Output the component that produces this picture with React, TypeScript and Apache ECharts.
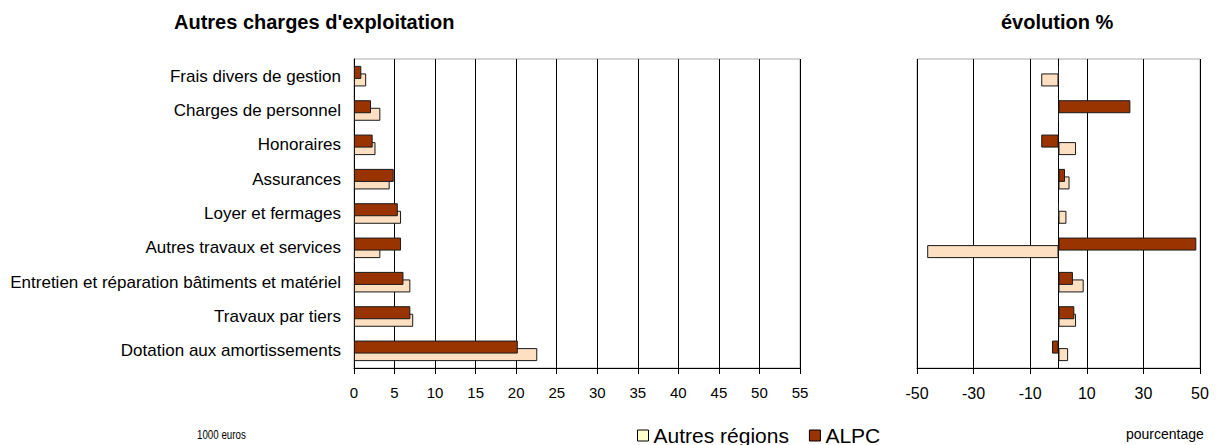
import React, { useEffect, useRef } from "react";
import * as echarts from "echarts";

const categories = [
  "Frais divers de gestion",
  "Charges de personnel",
  "Honoraires",
  "Assurances",
  "Loyer et fermages",
  "Autres travaux et services",
  "Entretien et réparation bâtiments et matériel",
  "Travaux par tiers",
  "Dotation aux amortissements",
];
const autresValues = [1.5, 3.25, 2.65, 4.4, 5.8, 3.25, 6.95, 7.3, 22.6];
const alpcValues = [0.9, 2.1, 2.3, 4.9, 5.4, 5.8, 6.1, 6.95, 20.2];
const autresEvol = [-6.1, 0, 6.2, 3.9, 2.8, -46.4, 8.9, 6.2, 3.4];
const alpcEvol = [0, 25.4, -6.1, 2.3, 0, 48.7, 5.1, 5.6, -2.3];
const leftTicks = { min: 0, max: 55, interval: 5 };
const rightRange = { min: -50, max: 50, step: 20 };

const AUTRES_COLOR = "#FDDFC2";
const ALPC_COLOR = "#993300";
const FONT = "Arial, 'Liberation Sans', sans-serif";

export default function App() {
  const ref = useRef<HTMLDivElement>(null);
  useEffect(() => {
    document.body.style.margin = "0";
    const chart = echarts.init(ref.current!, null, { renderer: "svg" });
    const barCommon = {
      type: "bar" as const,
      barWidth: 13,
      barGap: "-42%",
    };
    const border = { borderColor: "#1a1a1a", borderWidth: 1 };
    chart.setOption({
      animation: false,
      backgroundColor: "#fff",
      grid: [
        { left: 354, top: 59, width: 446, height: 309, show: true, borderColor: "#aaa", borderWidth: 1 },
        { left: 917, top: 59, width: 283, height: 309, show: true, borderColor: "#aaa", borderWidth: 1 },
      ],
      xAxis: [
        {
          gridIndex: 0,
          type: "value",
          min: leftTicks.min,
          max: leftTicks.max,
          interval: leftTicks.interval,
          axisLine: { show: true, lineStyle: { color: "#000", width: 1 } },
          axisTick: { show: true, length: 6, lineStyle: { color: "#000" } },
          axisLabel: { fontFamily: FONT, fontSize: 15, color: "#000", margin: 17 },
          splitLine: { show: true, lineStyle: { color: "#000", width: 1 } },
        },
        {
          gridIndex: 1,
          type: "value",
          min: rightRange.min,
          max: rightRange.max,
          show: false,
        },
        {
          gridIndex: 1,
          type: "value",
          position: "bottom",
          min: 0,
          max: rightRange.max - rightRange.min,
          interval: rightRange.step,
          axisLine: { show: true, lineStyle: { color: "#000", width: 1 } },
          axisTick: { show: true, length: 6, lineStyle: { color: "#000" } },
          axisLabel: {
            fontFamily: FONT,
            fontSize: 16,
            color: "#000",
            margin: 17,
            formatter: (v: number) => String(v + rightRange.min),
          },
          splitLine: { show: true, lineStyle: { color: "#000", width: 1 } },
        },
      ],
      yAxis: [
        {
          gridIndex: 0,
          type: "category",
          inverse: true,
          data: categories,
          axisLine: { show: true, lineStyle: { color: "#000" } },
          axisTick: { show: false },
          axisLabel: { fontFamily: FONT, fontSize: 17, color: "#000", margin: 13 },
          splitLine: { show: false },
        },
        {
          gridIndex: 1,
          type: "category",
          inverse: true,
          data: categories,
          axisLine: { show: true, onZero: true, onZeroAxisIndex: 1, lineStyle: { color: "#000" } },
          axisTick: { show: false },
          axisLabel: { show: false },
          splitLine: { show: false },
        },
      ],
      legend: {
        left: 637,
        top: 425,
        padding: 0,
        itemWidth: 11,
        itemHeight: 11,
        itemGap: 20,
        itemTextGap: 5,
        icon: "rect",
        textStyle: { fontFamily: FONT, fontSize: 21, color: "#000" },
        data: [
          { name: "Autres régions", itemStyle: { color: "#FFFFCC", borderColor: "#000", borderWidth: 1 } },
          { name: "ALPC", itemStyle: { color: ALPC_COLOR, borderColor: "#000", borderWidth: 1 } },
        ],
      },
      series: [
        { ...barCommon, name: "ALPC", z: 3, xAxisIndex: 0, yAxisIndex: 0, data: alpcValues, itemStyle: { ...border, color: ALPC_COLOR } },
        { ...barCommon, name: "Autres régions", z: 2, xAxisIndex: 0, yAxisIndex: 0, data: autresValues, itemStyle: { ...border, color: AUTRES_COLOR } },
        { ...barCommon, name: "ALPC", z: 3, xAxisIndex: 1, yAxisIndex: 1, data: alpcEvol, itemStyle: { ...border, color: ALPC_COLOR } },
        { ...barCommon, name: "Autres régions", z: 2, xAxisIndex: 1, yAxisIndex: 1, data: autresEvol, itemStyle: { ...border, color: AUTRES_COLOR } },
      ],
      graphic: [
        { type: "text", x: 174, y: 12, style: { text: "Autres charges d'exploitation", fontFamily: FONT, fontSize: 20, fontWeight: "bold", fill: "#000" } },
        { type: "text", x: 1001, y: 12, style: { text: "évolution %", fontFamily: FONT, fontSize: 20, fontWeight: "bold", fill: "#000" } },
        { type: "text", x: 197, y: 428, scaleX: 0.75, style: { text: "1000 euros", fontFamily: FONT, fontSize: 13, fill: "#000" } },
        { type: "text", x: 1126, y: 427, style: { text: "pourcentage", fontFamily: FONT, fontSize: 14, fill: "#000" } },
      ],
    });
    return () => chart.dispose();
  }, []);
  return <div ref={ref} style={{ width: 1217, height: 445 }} />;
}
